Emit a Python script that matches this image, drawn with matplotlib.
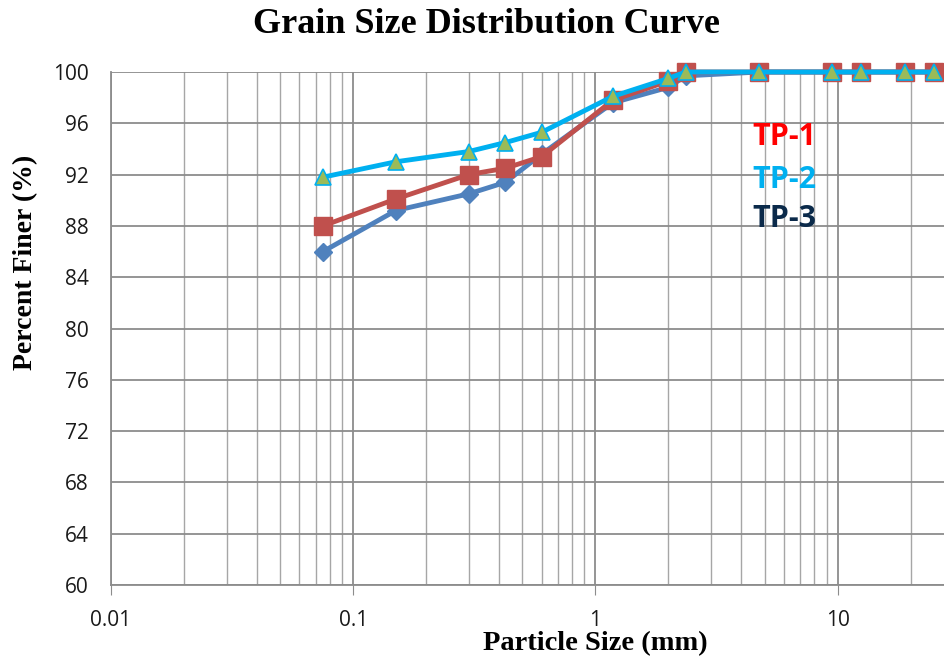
import matplotlib.pyplot as plt
from matplotlib.ticker import FixedLocator, LogLocator, NullFormatter

sizes = [0.075, 0.15, 0.3, 0.425, 0.6, 1.18, 2.0, 2.36, 4.75, 9.5, 12.5, 19.0, 25.0]
tp1 = [88.0, 90.1, 92.0, 92.5, 93.4, 97.8, 99.3, 100, 100, 100, 100, 100, 100]
tp2 = [91.8, 93.0, 93.8, 94.5, 95.3, 98.1, 99.5, 100, 100, 100, 100, 100, 100]
tp3 = [86.0, 89.2, 90.5, 91.4, 93.6, 97.6, 98.8, 99.7, 100, 100, 100, 100, 100]

x_ticks = [0.01, 0.1, 1, 10]
x_labels = ["0.01", "0.1", "1", "10"]
y_ticks = list(range(60, 101, 4))

fig = plt.figure(figsize=(9.44, 6.6), dpi=100)
ax = fig.add_axes([0.1176, 0.1136, 0.8824, 0.7773])

ax.plot(sizes, tp3, color="#4F81BD", lw=3.5, marker="D", ms=9,
        mfc="#4F81BD", mec="#4F81BD", zorder=3, clip_on=False)
ax.plot(sizes, tp1, color="#C0504D", lw=3.5, marker="s", ms=13,
        mfc="#C0504D", mec="#C0504D", zorder=4, clip_on=False)
ax.plot(sizes, tp2, color="#00B0F0", lw=3.5, marker="^", ms=12,
        mfc="#9BBB59", mec="#00B0F0", mew=1.2, zorder=5, clip_on=False)

ax.set_xscale("log")
ax.set_xlim(0.01, 27.5)
ax.set_ylim(60, 100)
ax.xaxis.set_major_locator(FixedLocator(x_ticks))
ax.set_xticklabels(x_labels)
ax.xaxis.set_minor_locator(LogLocator(base=10, subs=range(2, 10)))
ax.xaxis.set_minor_formatter(NullFormatter())
ax.set_yticks(y_ticks)

ax.grid(which="major", color="#8C8C8C", lw=1.3)
ax.grid(which="minor", axis="x", color="#A6A6A6", lw=1.0)
ax.set_axisbelow(True)

for s in ["top", "right"]:
    ax.spines[s].set_visible(False)
for s in ["left", "bottom"]:
    ax.spines[s].set_color("#8C8C8C")
    ax.spines[s].set_linewidth(1.3)
ax.tick_params(axis="both", which="major", color="#8C8C8C", labelsize=15,
               labelcolor="#1A1A1A")
ax.tick_params(axis="y", length=0, pad=16)
ax.tick_params(axis="x", which="major", length=7, pad=11)
ax.tick_params(axis="x", which="minor", length=0)
for lab in ax.get_xticklabels() + ax.get_yticklabels():
    lab.set_family("Open Sans")

serif = {"family": "Liberation Serif", "weight": "bold"}
fig.suptitle("Grain Size Distribution Curve", x=0.515, y=0.988, fontsize=26, **serif)
ax.set_xlabel("Particle Size (mm)", fontsize=20.5, **serif)
ax.xaxis.set_label_coords(0.581, -0.09)
ax.set_ylabel("Percent Finer (%)", fontsize=20, **serif)
ax.yaxis.set_label_coords(-0.087, 0.628)

for txt, col, yy in [("TP-1", "#FF0000", 0.873), ("TP-2", "#00B0F0", 0.789),
                     ("TP-3", "#0B2A4A", 0.714)]:
    ax.text(0.77, yy, txt, transform=ax.transAxes, color=col, fontsize=22,
            fontweight="bold", family="Open Sans", va="center", zorder=6)

fig.savefig("out.png", dpi=100)
